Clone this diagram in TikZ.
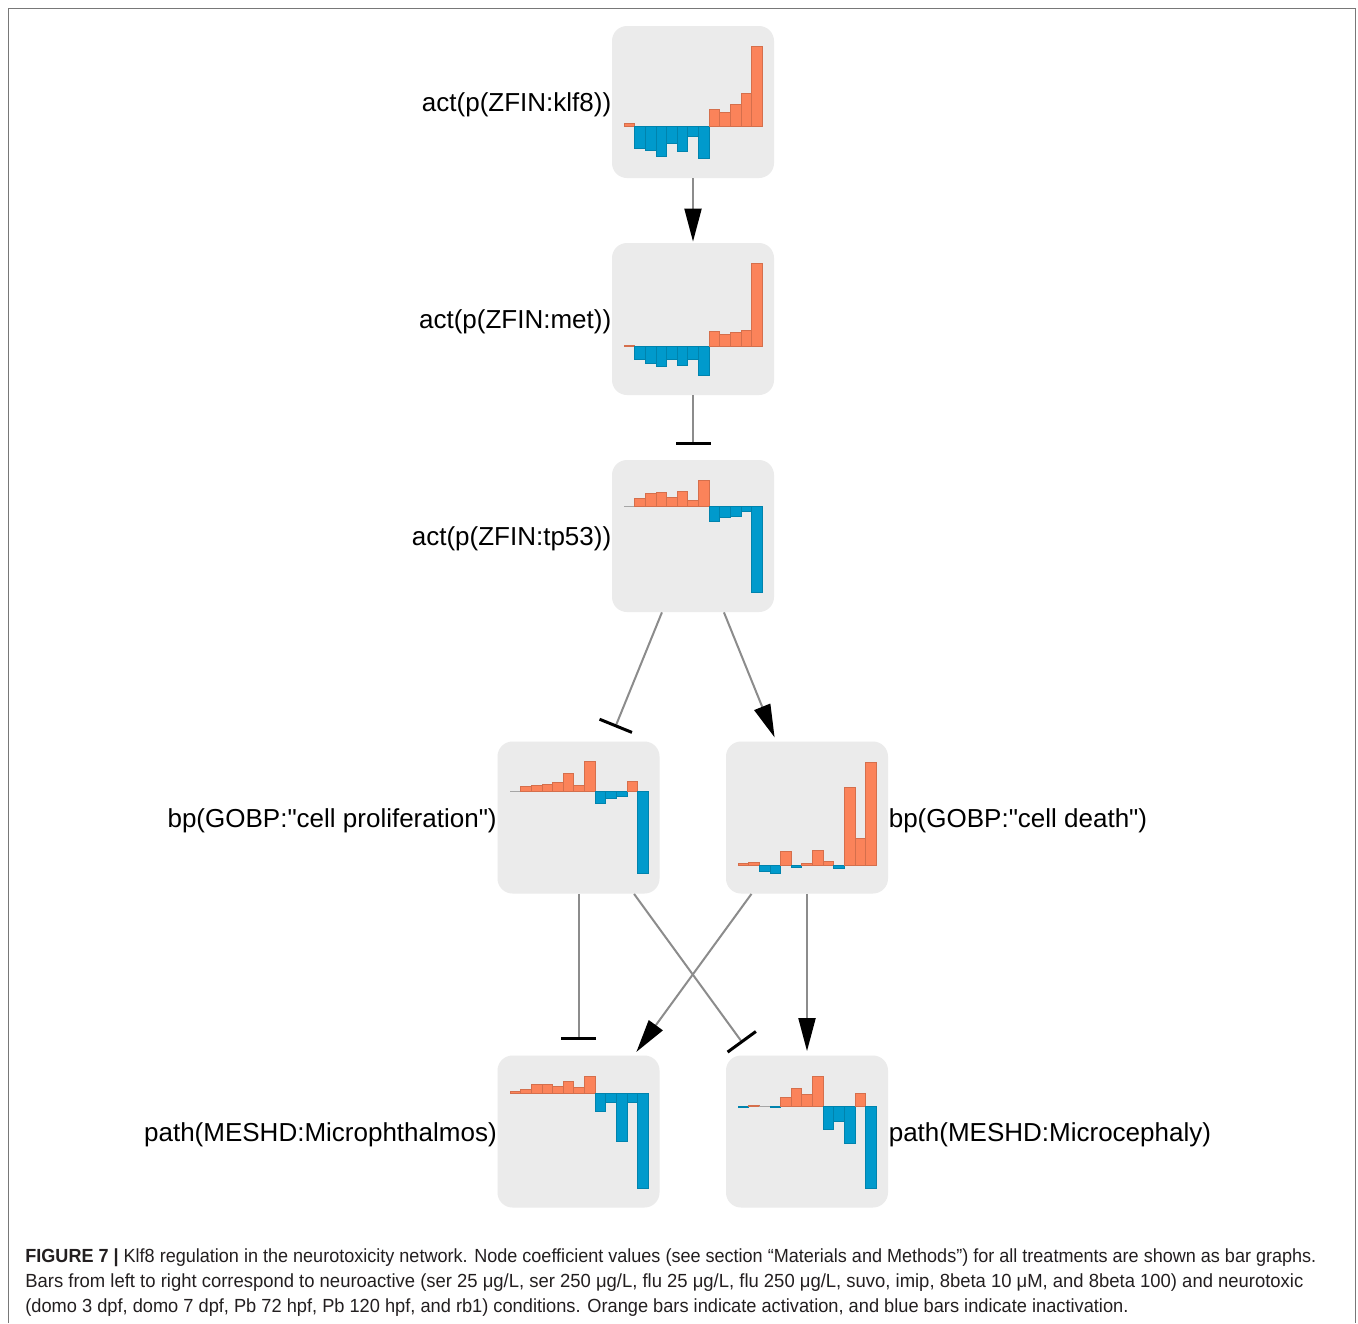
\documentclass[tikz,border=0pt]{standalone}
\usepackage{fontspec}
\setmainfont{Liberation Sans}[Ligatures=TeXOff]
\usetikzlibrary{arrows.meta}
\definecolor{boxgray}{RGB}{235,235,235}
\definecolor{actor}{RGB}{251,131,90}
\definecolor{inblue}{RGB}{0,154,204}
\definecolor{edgegray}{RGB}{140,140,140}
\definecolor{framegray}{RGB}{120,120,120}
\definecolor{captext}{RGB}{35,31,32}
\newcommand\drawbars[3]{%
  \foreach \v [count=\i from 0] in {#3}{%
    \pgfmathsetmacro\xa{#1+\i*10.62}%
    \pgfmathsetmacro\xb{\xa+10.62}%
    \ifdim\v pt<0pt
      \filldraw[fill=inblue, draw=inblue!85!black, line width=0.25pt] (\xa,#2) rectangle (\xb,{#2-(\v)});
    \else
      \ifdim\v pt=0pt
        \draw[draw=black!35, line width=0.4pt] (\xa,#2) -- (\xb,#2);
      \else
        \filldraw[fill=actor, draw=actor!85!black, line width=0.25pt] (\xa,#2) rectangle (\xb,{#2-(\v)});
      \fi
    \fi
  }}
\tikzset{
  box/.style={rectangle, rounded corners=7.5pt, fill=boxgray, minimum width=81pt, minimum height=76pt, inner sep=0pt},
  lbl/.style={inner sep=0pt, yshift=-1.5pt, font=\fontsize{13pt}{15pt}\selectfont, text=black},
  actedge/.style={draw=edgegray, line width=1pt, -{Triangle[width=8.5pt,length=16.5pt,color=black]}, shorten >=0.5pt},
  inhedge/.style={draw=edgegray, line width=1pt, -{Bar[width=17.5pt,line width=1.5pt,color=black]}, shorten >=7.5pt},
  captionline/.style={inner sep=0pt, anchor=base west, text=captext, font=\fontsize{9.5pt}{12pt}\selectfont}
}
\begin{document}
\begin{tikzpicture}[x=0.5pt,y=-0.5pt]
\useasboundingbox (0,0) rectangle (1358,1323);
\fill[white] (0,0) rectangle (1358,1323);
\draw[framegray, line width=0.7pt] (8.5,1323) -- (8.5,8.5) -- (1355.5,8.5) -- (1355.5,1323);
% nodes
\node[box] (n1) at (693,102) {};
\node[box] (n2) at (693,319) {};
\node[box] (n3) at (693,536) {};
\node[box] (n4) at (578.5,817.5) {};
\node[box] (n5) at (807,817.5) {};
\node[box] (n6) at (578.5,1131.5) {};
\node[box] (n7) at (807,1131.5) {};
% bar charts
\drawbars{624}{126}{2.3,-22,-24,-30,-17,-25,-10,-32,17,14,22,33,80}
\drawbars{624}{346}{0.5,-13,-17,-20,-13,-19,-13,-29,15,12,14,16,83}
\drawbars{624}{506}{0,8,13,14,9,15,6,26,-15,-11,-10,-5,-86}
\drawbars{510}{791}{0,5,6,7,9,18,6,30,-12,-7,-5,10,-82}
\drawbars{738}{865}{1.3,2.3,-6,-8,14,-2,2,15,4,-3,78,27,103}
\drawbars{510}{1093}{1.3,4,9,9,7,12,6,17,-18,-9,-48,-9,-95}
\drawbars{738}{1106}{-1.7,0.7,0,-1.7,9,18,12,30,-23,-15,-37,13,-82}
% labels
\node[lbl, anchor=east] (l1) at (n1.west) {act(p(ZFIN:klf8))};
\node[lbl, anchor=east] (l2) at (n2.west) {act(p(ZFIN:met))};
\node[lbl, anchor=east] (l3) at (n3.west) {act(p(ZFIN:tp53))};
\node[lbl, anchor=east] (l4) at (n4.west) {bp(GOBP:"cell proliferation")};
\node[lbl, anchor=west] (l5) at (n5.east) {bp(GOBP:"cell death")};
\node[lbl, anchor=east] (l6) at (n6.west) {path(MESHD:Microphthalmos)};
\node[lbl, anchor=west] (l7) at (n7.east) {path(MESHD:Microcephaly)};
% edges
\draw[actedge] (n1) -- (n2);
\draw[inhedge] (n2) -- (n3);
\draw[inhedge] (n3) -- (n4);
\draw[actedge, shorten >=2pt] (n3) -- (n5);
\draw[inhedge] (n4) -- (n6);
\draw[inhedge] (n4) -- (n7);
\draw[actedge, shorten >=2pt] (n5) -- (n6);
\draw[actedge, shorten >=2pt] (n5) -- (n7);
% caption
\node[captionline] (c1) at (25,1262) {\resizebox{645.5pt}{\height}{\textbf{FIGURE 7 |} Klf8 regulation in the neurotoxicity network. Node coefficient values (see section “Materials and Methods”) for all treatments are shown as bar graphs.}};
\node[captionline] (c2) at (25,1287) {\resizebox{639pt}{\height}{Bars from left to right correspond to neuroactive (ser 25 μg/L, ser 250 μg/L, flu 25 μg/L, flu 250 μg/L, suvo, imip, 8beta 10 μM, and 8beta 100) and neurotoxic}};
\node[captionline] (c3) at (25,1312) {\resizebox{551.5pt}{\height}{(domo 3 dpf, domo 7 dpf, Pb 72 hpf, Pb 120 hpf, and rb1) conditions. Orange bars indicate activation, and blue bars indicate inactivation.}};
\end{tikzpicture}
\end{document}
